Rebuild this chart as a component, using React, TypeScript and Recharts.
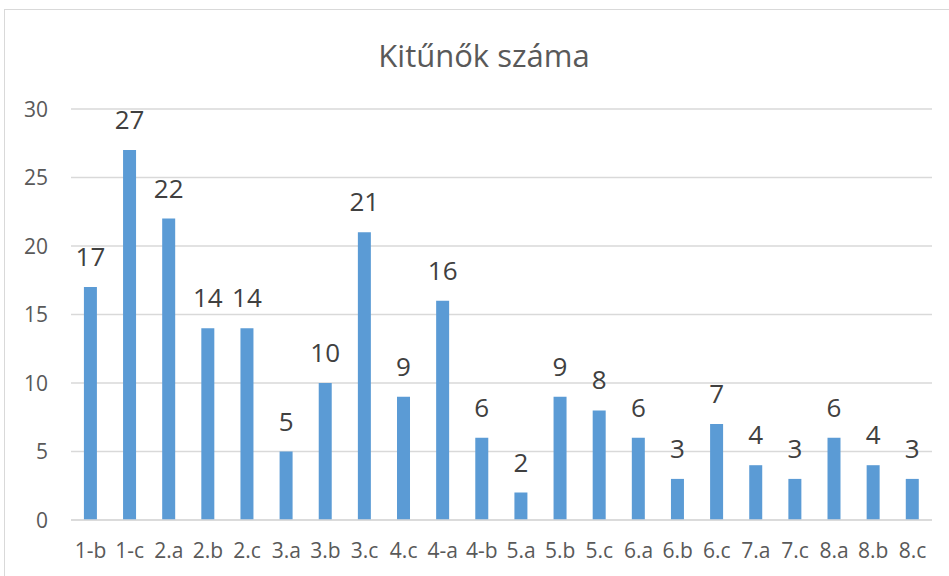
import { BarChart, Bar, XAxis, YAxis, CartesianGrid, LabelList } from "recharts";

const classes = [
  "1-b", "1-c", "2.a", "2.b", "2.c", "3.a", "3.b", "3.c", "4.c", "4-a", "4-b",
  "5.a", "5.b", "5.c", "6.a", "6.b", "6.c", "7.a", "7.c", "8.a", "8.b", "8.c",
];
const counts = [17, 27, 22, 14, 14, 5, 10, 21, 9, 16, 6, 2, 9, 8, 6, 3, 7, 4, 3, 6, 4, 3];
const yTicks = [0, 5, 10, 15, 20, 25, 30];

const data = classes.map((name, i) => ({ name, value: counts[i] }));

const FONT = "'Open Sans', sans-serif";

const XTick = (props: any) => (
  <text
    x={props.x}
    y={props.y}
    dy="0.71em"
    textAnchor="middle"
    fill="#595959"
    style={{ fontSize: "21px", fontFamily: FONT }}
  >
    {props.payload.value}
  </text>
);

const YTick = (props: any) => (
  <text
    x={props.x}
    y={props.y}
    dy="0.36em"
    textAnchor="end"
    fill="#595959"
    style={{ fontSize: "21px", fontFamily: FONT }}
  >
    {props.payload.value}
  </text>
);

export default function App() {
  return (
    <div
      style={{
        position: "absolute",
        left: 4,
        top: 9,
        width: 945,
        height: 567,
        boxSizing: "border-box",
        borderTop: "1px solid #d9d9d9",
        borderLeft: "1px solid #d9d9d9",
        background: "#fff",
        fontFamily: FONT,
      }}
    >
      <div
        style={{
          position: "absolute",
          left: 0,
          width: 958,
          top: 24,
          textAlign: "center",
          fontSize: 31,
          color: "#595959",
          lineHeight: "normal",
        }}
      >
        Kitűnők száma
      </div>
      <BarChart
        width={944}
        height={566}
        data={data}
        margin={{ top: 99, right: 17, bottom: 25, left: 0 }}
        barCategoryGap="33%"
      >
        <CartesianGrid vertical={false} stroke="#d9d9d9" strokeWidth={1.5} />
        <XAxis
          dataKey="name"
          interval={0}
          height={31}
          tickLine={false}
          tickMargin={17}
          axisLine={{ stroke: "#d9d9d9", strokeWidth: 1.5 }}
          tick={<XTick />}
        />
        <YAxis
          width={66}
          domain={[0, 30]}
          ticks={yTicks}
          axisLine={false}
          tickLine={false}
          tickMargin={17}
          tick={<YTick />}
        />
        <Bar dataKey="value" fill="#5b9bd5" isAnimationActive={false}>
          <LabelList
            dataKey="value"
            position="top"
            offset={21}
            fill="#404040"
            fontSize={26}
            fontFamily={FONT}
          />
        </Bar>
      </BarChart>
    </div>
  );
}
